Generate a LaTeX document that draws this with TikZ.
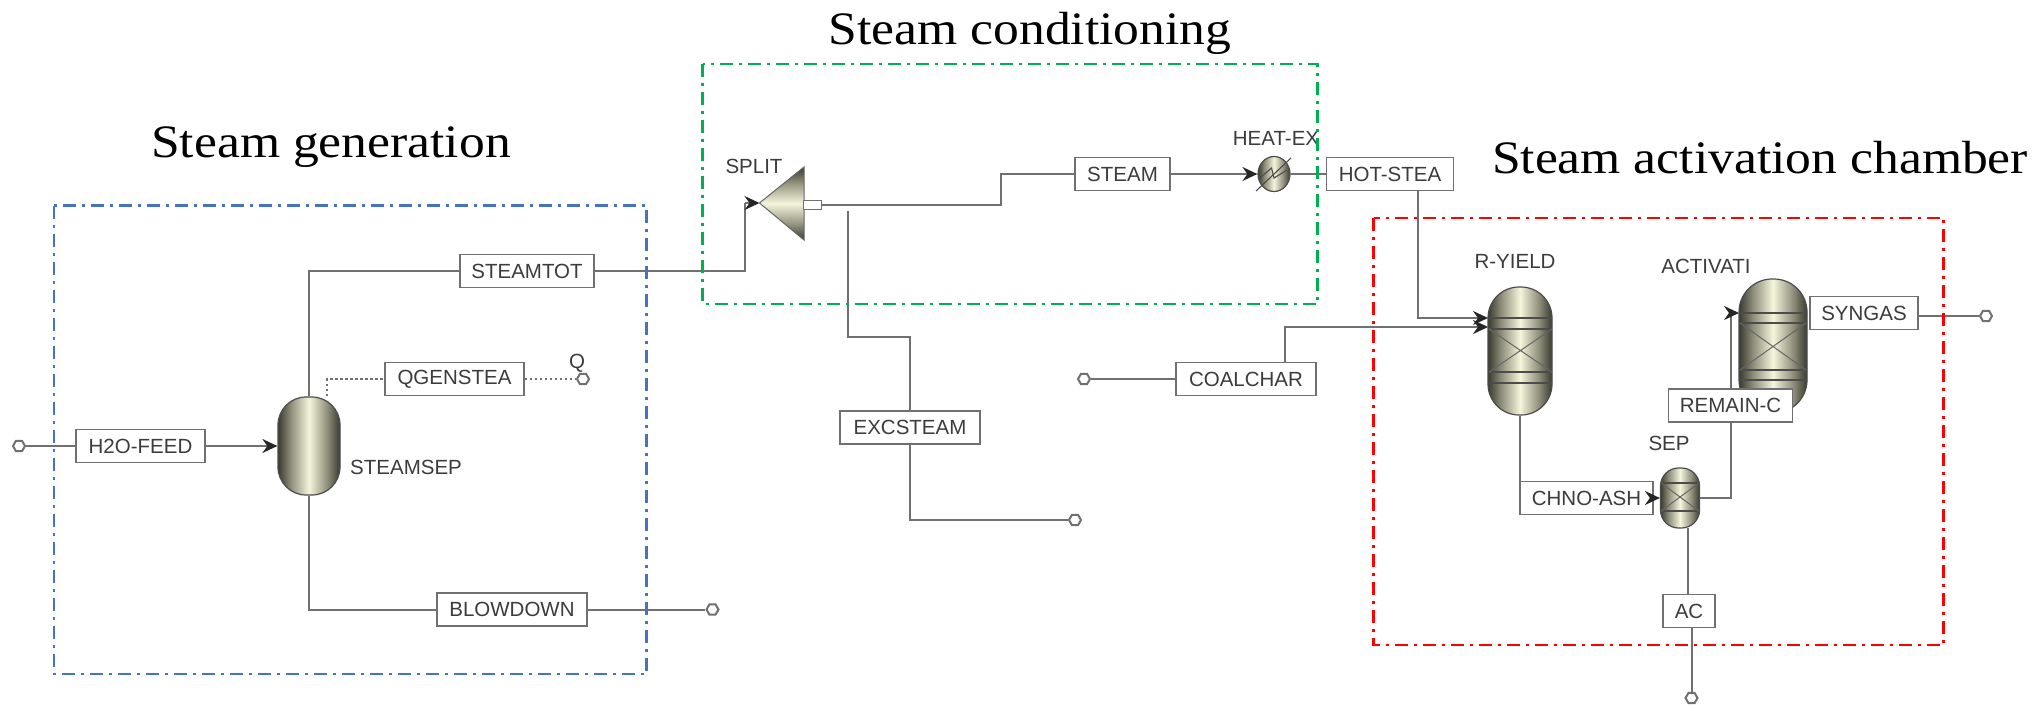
\documentclass[tikz,border=0pt]{standalone}
\usepackage{fontspec}
\setmainfont{Liberation Sans}
\newfontfamily\titlefont[FakeStretch=1.11]{Liberation Serif}
\usetikzlibrary{arrows.meta,shapes.geometric,calc}
\definecolor{ln}{HTML}{707070}
\definecolor{txt}{HTML}{3C3C3C}
\definecolor{vD}{HTML}{3A3A30}
\definecolor{vM}{HTML}{8C8C78}
\definecolor{vL}{HTML}{F5F5DC}
\pgfdeclarehorizontalshading{vess}{100bp}{color(0bp)=(vD); color(25bp)=(vD); color(35bp)=(vM); color(50bp)=(vL); color(65bp)=(vM); color(75bp)=(vD); color(100bp)=(vD)}
\tikzset{
 x=1pt,y=-1pt,
 line/.style={draw=ln,line width=2pt},
 flow/.style={line,-{Stealth[length=15pt,width=14pt,inset=5pt,color=black!85]}},
 heat/.style={draw=ln,line width=2pt,dash pattern=on 2.5pt off 2.5pt},
 tag/.style={draw=ln,line width=1.8pt,fill=white,inner sep=0pt,text=txt,font=\fontsize{20.5}{22}\selectfont,minimum height=33pt,anchor=center},
 lab/.style={inner sep=0pt,text=txt,font=\fontsize{20.5}{22}\selectfont},
 title/.style={inner sep=0pt,text=black,font=\titlefont\fontsize{46.5}{48}\selectfont},
 port/.style={regular polygon,regular polygon sides=6,draw=ln,line width=2pt,fill=white,inner sep=0pt,minimum size=12pt},
 vessel/.style={draw=black!70,line width=1.2pt,shading=vess,inner sep=0pt},
 band/.style={draw=black!70,line width=1.8pt},
 cross/.style={draw=black!60,line width=1pt},
 zone/.style={line width=2.2pt,dash pattern=on 13pt off 6pt on 3pt off 6pt},
}
\begin{document}
\begin{tikzpicture}
\useasboundingbox (0,0) rectangle (2044,704);
\fill[white] (0,0) rectangle (2044,704);

% titles
\node[title] (t1) at (331,147) {Steam generation};
\node[title] (t2) at (1030,33) {Steam conditioning};
\node[title] (t3) at (1760,158) {Steam activation chamber};

% unit blocks
\node[vessel,minimum width=62pt,minimum height=98pt,rounded corners=28pt] (steamsep) at (309,446) {};
\node[vessel,minimum width=64pt,minimum height=128pt,rounded corners=31pt] (ryield) at (1520,351) {};
\node[vessel,minimum width=68pt,minimum height=134pt,rounded corners=33pt] (activ) at (1773,346) {};
\node[vessel,minimum width=39pt,minimum height=60pt,rounded corners=18pt] (sep) at (1680,498) {};
\node[ellipse,vessel,minimum width=32pt,minimum height=35pt] (heatex) at (1274,174) {};
\shade[shading=vess,shading angle=90,draw=black!60,line width=1pt] (759.5,203) coordinate (splittip) -- (804,167) -- (804,240) -- cycle;
\node[draw=ln,line width=1.5pt,fill=white,minimum width=18pt,minimum height=9pt,inner sep=0pt] (splitout) at (812.7,205) {};

% vessel internals
\draw[band] (1489,318)--(1552,318) (1489,329)--(1552,329) (1489,372)--(1552,372) (1489,383)--(1552,383);
\draw[cross] (1489,329)--(1552,372) (1489,372)--(1552,329);
\draw[band] (1740,313)--(1806,313) (1740,323)--(1806,323) (1740,370)--(1806,370) (1740,380)--(1806,380);
\draw[cross] (1740,323)--(1806,370) (1740,370)--(1806,323);
\draw[band] (1661,483)--(1699,483) (1661,511)--(1699,511);
\draw[cross] (1661,483)--(1699,511) (1661,511)--(1699,483);
\draw[draw=black!70,line width=1.1pt] (1256,191)--(1291,158);
\draw[draw=black!70,line width=1.1pt] (1260,178)--(1271.5,168)--(1274,178)--(1287,170);

% stream tags
\node[tag,minimum width=134pt] (steamtot) at (527,271) {STEAMTOT};
\node[tag,minimum width=139pt] (qgen) at (454.5,379) {QGENSTEA};
\node[tag,minimum width=129pt] (h2o) at (140.5,446) {H2O-FEED};
\node[tag,minimum width=150pt] (blow) at (512,609.5) {BLOWDOWN};
\node[tag,minimum width=95pt] (steam) at (1122.5,174) {STEAM};
\node[tag,minimum width=127pt] (hot) at (1390,174) {HOT-STEA};
\node[tag,minimum width=140pt] (coal) at (1246,379) {COALCHAR};
\node[tag,minimum width=140pt] (exc) at (910,427.5) {EXCSTEAM};
\node[tag,minimum width=108pt] (syngas) at (1864,313) {SYNGAS};
\node[tag,minimum width=124pt] (remain) at (1730.5,405.5) {REMAIN-C};
\node[tag,minimum width=133pt] (chno) at (1586.5,498) {CHNO-ASH};
\node[tag,minimum width=52pt] (ac) at (1689,611) {AC};

% ports
\node[port] (pfeed) at (19,446) {};
\node[port] (pq) at (583,379) {};
\node[port] (pblow) at (712.5,609.5) {};
\node[port] (pexc) at (1075,520) {};
\node[port] (pcoal) at (1084,379) {};
\node[port] (psyn) at (1986,316) {};
\node[port] (pac) at (1691.5,698) {};

% block labels
\node[lab,anchor=west] (lsteamsep) at (350,467) {STEAMSEP};
\node[lab] (lq) at (577,363) {Q};
\node[lab] (lsplit) at (754,166) {SPLIT};
\node[lab] (lheat) at (1276,138) {HEAT-EX};
\node[lab] (lry) at (1515,261) {R-YIELD};
\node[lab] (lact) at (1706,266) {ACTIVATI};
\node[lab] (lsep) at (1669,443) {SEP};

% connectors
\draw[line] (pfeed) -- (h2o);
\draw[flow] (h2o) -- (steamsep.west);
\draw[line] (steamsep.north) |- (steamtot.west);
\draw[line] (steamsep.south) |- (blow.west);
\draw[line] (blow) -- (pblow);
\coordinate (qs) at (327,396);
\draw[heat] (qs) |- (qgen.west);
\draw[heat] (qgen) -- (pq);
\coordinate (stin) at (745,203);
\draw[line] (steamtot.east) -- (745,271) -- (stin);
\draw[flow] (stin) -- (splittip);
\coordinate (so) at (splitout.east);
\draw[line] (so) -- (1001,205) |- (steam.west);
\draw[flow] (steam) -- (heatex.west);
\draw[line] (heatex) -- (hot);
\coordinate (exs) at (848,211);
\draw[line] (exs) -- (848,337) -| (exc.north);
\draw[line] (exc.south) |- (pexc);
\draw[line] (coal.west) -- (pcoal);
\coordinate (rin1) at (1488,318);
\coordinate (rin2) at (1488,327);
\draw[flow] (1418,190) |- (rin1);
\draw[flow] (1285,362) |- (rin2);
\draw[line] (ryield.south) -- (1520,481);
\draw[flow] (chno) -- (sep.west);
\draw[line] (sep.east) -| (remain.south);
\coordinate (ain) at (1739,313);
\draw[flow] (1730.5,389) |- (ain);
\draw[line] (syngas.east |- psyn) -- (psyn);
\draw[line] (1688,528) -- (1688,594.5);
\draw[line] (1691.5,627.5) -- (pac);

% zones
\draw[zone,draw={rgb,255:red,68;green,114;blue,196}] (54,205.5) rectangle (646.5,674);
\draw[zone,draw={rgb,255:red,0;green,176;blue,80}] (702.5,64) rectangle (1317.5,304);
\draw[zone,draw=red] (1373.5,218) rectangle (1943.5,645);
\end{tikzpicture}
\end{document}
